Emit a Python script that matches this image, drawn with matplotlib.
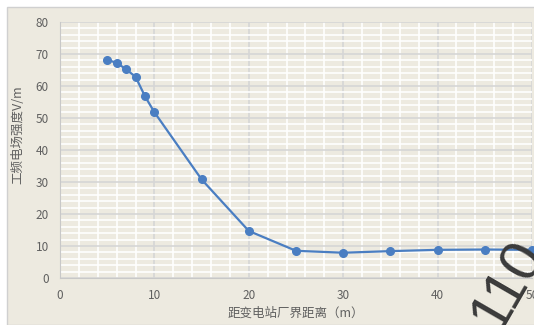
import matplotlib.pyplot as plt
from matplotlib.patches import Rectangle
from matplotlib.ticker import MultipleLocator

plt.rcParams['font.family'] = ['Noto Sans CJK SC', 'DejaVu Sans']

# distance from substation boundary (m) and field strength (V/m)
dist = [5, 6, 7, 8, 9, 10, 15, 20, 25, 30, 35, 40, 45, 50]
field = [68.1, 67.3, 65.2, 62.9, 56.8, 51.8, 30.8, 14.7, 8.5, 7.9, 8.4, 8.8, 8.9, 8.8]

xticks = [0, 10, 20, 30, 40, 50]
yticks = [0, 10, 20, 30, 40, 50, 60, 70, 80]

bg = '#EDEAE0'
fig = plt.figure(figsize=(5.34, 3.25), dpi=100)
fig.patch.set_facecolor('white')
fig.patches.append(Rectangle((7 / 534, 0), 1, 1 - 7 / 325, transform=fig.transFigure,
                             facecolor=bg, edgecolor='#D0D0D0', lw=1, zorder=-1))

ax = fig.add_axes([60 / 534, 47 / 325, 472 / 534, 256 / 325])
ax.set_facecolor(bg)
ax.set_xlim(0, 50)
ax.set_ylim(0, 80)
ax.set_xticks(xticks)
ax.set_yticks(yticks)
ax.xaxis.set_minor_locator(MultipleLocator(2))
ax.yaxis.set_minor_locator(MultipleLocator(2))
ax.grid(which='minor', color='white', lw=1.2, zorder=0)
ax.grid(which='major', color='#D6D6D6', lw=1.2, zorder=1)
ax.tick_params(which='both', length=0, labelsize=8.5, labelcolor='#606060', pad=8)
for s in ax.spines.values():
    s.set_visible(False)
ax.spines['left'].set_visible(True)
ax.spines['bottom'].set_visible(True)
ax.spines['left'].set_color('#C8C8C8')
ax.spines['bottom'].set_color('#C8C8C8')

ax.plot(dist, field, color='#4A7EC2', lw=1.6, marker='o', ms=5.5, zorder=3, clip_on=False)

ax.set_xlabel('距变电站厂界距离（m）', fontsize=9, color='#606060', labelpad=3)
ax.set_ylabel('工频电场强度V/m', fontsize=9, color='#606060')
ax.yaxis.set_label_coords(-0.075, 0.56)

# watermark in the lower right corner
fig.text(508, 40, '110', transform=None, fontsize=42, color='#3A3A3A',
         rotation=60, ha='center', va='center', family='Liberation Sans', zorder=5)

fig.savefig('out.png', dpi=100)
